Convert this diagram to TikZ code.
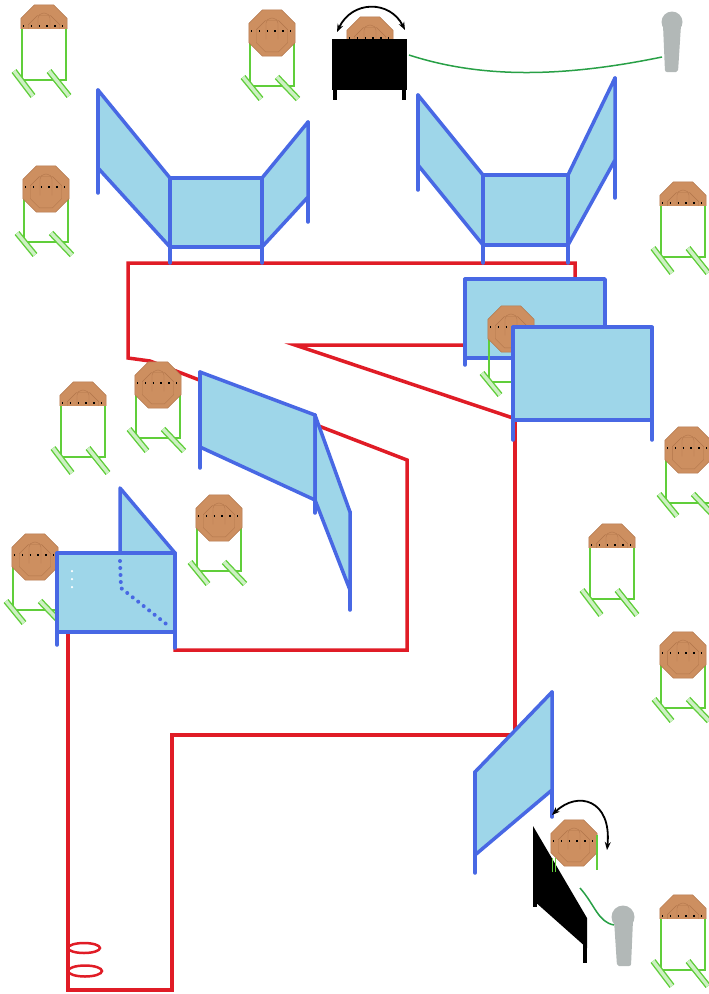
\documentclass[tikz,border=0pt]{standalone}
\usepackage{tikz}
\usetikzlibrary{arrows.meta, shapes.geometric}

\definecolor{panelfill}{RGB}{158,214,233}
\definecolor{panelblue}{RGB}{72,104,228}
\definecolor{faultred}{RGB}{224,28,38}
\definecolor{tgtbrown}{RGB}{205,143,96}
\definecolor{tgtline}{RGB}{178,118,75}
\definecolor{standgreen}{RGB}{96,206,58}
\definecolor{footgreen}{RGB}{205,240,195}
\definecolor{micgrey}{RGB}{178,184,183}
\definecolor{cordgreen}{RGB}{40,160,70}

\begin{document}
\begin{tikzpicture}[
  x=1pt, y=-1pt,
  panel/.style={fill=panelfill, draw=panelblue, line width=3.5pt, line join=round},
  leg/.style={draw=panelblue, line width=3.5pt, line cap=round},
  fault/.style={draw=faultred, line width=3.5pt},
  stand/.style={draw=standgreen, line width=2.5pt},
  foot/.style={draw=standgreen, line width=1.4pt, double=footgreen, double distance=3.4pt},
  swing/.style={{Stealth[length=8pt]}-{Stealth[length=8pt]}, line width=1.8pt},
  cord/.style={draw=cordgreen, line width=1.5pt},
  mic/.style={fill=micgrey},
  pics/head/.style={code={
    \begin{scope}[yscale=1.06]
    \node[regular polygon, regular polygon sides=8, minimum size=50pt, inner sep=0pt,
          fill=tgtbrown, draw=tgtline, line width=0.5pt] (-oct) at (0,0) {};
    \node[regular polygon, regular polygon sides=8, minimum size=34pt, inner sep=0pt,
          draw=tgtline, line width=0.4pt] (-zone) at (0,3) {};
    \draw[tgtline, line width=0.4pt, rounded corners=5pt] (-6,6) -- (-6,-14) -- (6,-14) -- (6,6);
    \end{scope}
    \draw[line width=1.3pt, dash pattern=on 1.3pt off 6.5pt] (-21,-2) -- (21,-2);
  }},
  pics/tophead/.style={code={
    \begin{scope}
      \clip (-30,0) rectangle (30,-30);
      \pic {head};
    \end{scope}
  }},
  pics/tgt/.style={code={
    \draw[stand] (-22,-9) -- (-22,53) -- (22,53) -- (22,-9);
    \draw[foot] (-29,44) -- (-11,66);
    \draw[foot] (5,44) -- (26,66);
    \pic {head};
  }},
  pics/halftgt/.style={code={
    \draw[stand] (-22,0) -- (-22,52) -- (22,52) -- (22,0);
    \draw[foot] (-30,43) -- (-11,68);
    \draw[foot] (5,43) -- (25,68);
    \pic {tophead};
  }}
]
\useasboundingbox (0,0) rectangle (709,994);

% Fault lines
\draw[fault] (575,278) -- (575,263) -- (128,263) -- (128,358) -- (150,361) -- (407,460)
             -- (407,650) -- (175,650) -- (175,632);
\draw[fault] (465,345) -- (295,345) -- (513,418);
\draw[fault] (515,420) -- (515,735) -- (172,735) -- (172,990) -- (68,990) -- (68,632);

% Start position marks
\draw[faultred, line width=2.5pt] (84,948) ellipse (16pt and 5pt);
\draw[faultred, line width=2.5pt] (85,971) ellipse (17pt and 5.5pt);

% Targets
\pic (t1) at (44,28) {halftgt};
\pic (t2) at (272,33) {tgt};
\pic (t3) at (46,189) {tgt};
\pic (t4) at (683,205) {halftgt};
\pic (t6) at (158,385) {tgt};
\pic (t7) at (83,405) {halftgt};
\pic (t8) at (688,450) {tgt};
\pic (t9) at (219,518) {tgt};
\pic (t10) at (35,557) {tgt};
\pic (t11) at (612,547) {halftgt};
\pic (t12) at (683,655) {tgt};
\pic (t13) at (683,918) {halftgt};

% Barricade, top left
\draw[leg] (98,90) -- (98,193);
\draw[leg] (170,247) -- (170,263);
\draw[leg] (262,247) -- (262,263);
\draw[leg] (308,122) -- (308,222);
\draw[panel] (98,90) -- (170,178) -- (170,247) -- (98,168) -- cycle;
\draw[panel] (170,178) rectangle (262,247);
\draw[panel] (262,178) -- (308,122) -- (308,197) -- (262,247) -- cycle;

% Barricade, top right
\draw[leg] (418,95) -- (418,190);
\draw[leg] (483,245) -- (483,263);
\draw[leg] (568,245) -- (568,263);
\draw[leg] (615,78) -- (615,198);
\draw[panel] (418,95) -- (483,175) -- (483,245) -- (418,165) -- cycle;
\draw[panel] (483,175) rectangle (568,245);
\draw[panel] (568,175) -- (615,78) -- (615,160) -- (568,245) -- cycle;

% Port with hidden target
\draw[leg] (465,279) -- (465,365);
\draw[panel] (465,279) rectangle (605,358);
\pic (t5) at (511,329) {tgt};
\draw[leg] (513,327) -- (513,440);
\draw[leg] (652,327) -- (652,440);
\draw[panel] (513,327) rectangle (652,420);

% Angled wall, middle
\draw[leg] (200,372) -- (200,468);
\draw[leg] (315,415) -- (315,513);
\draw[leg] (350,512) -- (350,610);
\draw[panel] (200,372) -- (315,415) -- (315,500) -- (200,447) -- cycle;
\draw[panel] (315,415) -- (350,512) -- (350,590) -- (315,500) -- cycle;

% Wall with window, left
\draw[leg] (57,553) -- (57,645);
\draw[leg] (175,553) -- (175,648);
\draw[panel] (120,488) -- (175,553) -- (120,553) -- cycle;
\draw[panel] (57,553) rectangle (175,632);
\draw[panelblue, line width=4pt, line cap=round, dash pattern=on 0pt off 7pt]
  (120,561) -- (121,588) -- (170,627);
\draw[white, line width=2.5pt, line cap=round, dash pattern=on 0pt off 8pt] (72,571) -- (72,590);

% Wall, bottom
\draw[leg] (552,692) -- (552,817);
\draw[leg] (475,772) -- (475,873);
\draw[panel] (552,692) -- (552,790) -- (475,855) -- (475,772) -- cycle;

% Swinger, top
\pic[yscale=1.3] (s1) at (370,40) {tophead};
\fill (332,39) rectangle (407,90);
\draw[line width=3.5pt] (335,88) -- (335,100);
\draw[line width=3.5pt] (404,88) -- (404,100);
\draw[swing] (337,32) .. controls (352,0) and (390,0) .. (405,30);
\fill[mic] (672,22) circle (10.5pt);
\fill[mic, rounded corners=2pt] (663,25) -- (681,25) -- (678,72) -- (665,72) -- cycle;
\draw[cord] (409,55) .. controls (480,78) and (560,78) .. (662,57);

% Swinger, bottom
\fill (533,826) -- (587,918) -- (587,948) -- (533,900) -- cycle;
\draw[line width=3.5pt] (535,890) -- (535,907);
\draw[line width=3.5pt] (585,940) -- (585,963);
\pic (s2) at (574,843) {head};
\draw[stand] (597,835) -- (597,870);
\draw[standgreen, line width=1pt] (552,858) -- (552,872) (555,858) -- (555,872);
\draw[swing] (552,815) .. controls (578,790) and (612,800) .. (607,850);
\fill[mic] (623,917) circle (11.5pt);
\fill[mic, rounded corners=2pt] (614,920) -- (633,920) -- (631,966) -- (617,966) -- cycle;
\draw[cord] (580,888) .. controls (595,905) and (598,922) .. (614,925);

\end{tikzpicture}
\end{document}
